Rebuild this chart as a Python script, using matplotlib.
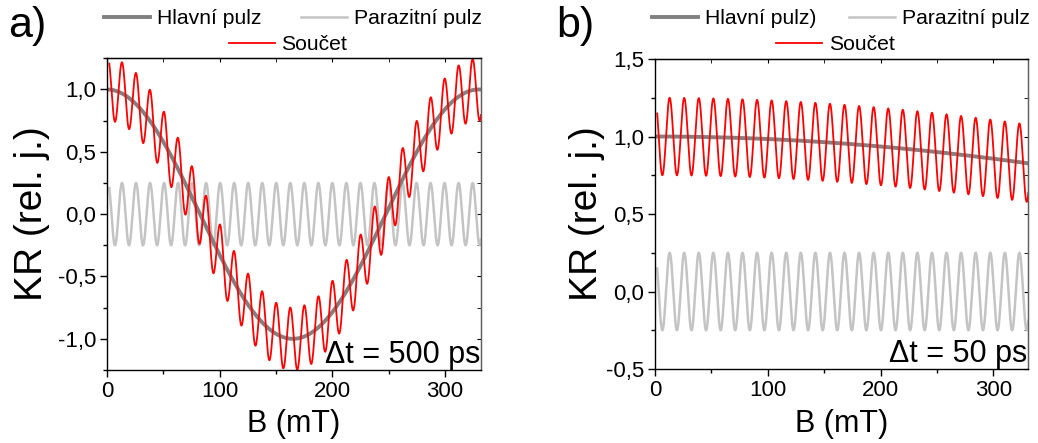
import numpy as np
import matplotlib.pyplot as plt
from matplotlib.ticker import MultipleLocator, FuncFormatter
from matplotlib.lines import Line2D

plt.rcParams['font.family'] = ['Liberation Sans', 'DejaVu Sans']

# values (B in mT)
panel_tags = ['a)', 'b)']
delay_texts = ['\u0394t = 500 ps', '\u0394t = 50 ps']
main_labels = ['Hlavní pulz', 'Hlavní pulz)']
par_label = 'Parazitní pulz'
sum_label = 'Součet'

b_start = [2.0, 2.0]
b_end = [332.0, 331.0]
main_period = [330.0, 3480.0]     # period of the main pulse precession
par_period = [12.45, 12.92]       # period of the parasitic pulse
par_first_peak = [13.3, 13.0]     # B of first parasitic maximum
par_amp = [0.25, 0.25]

y_limits = [(-1.25, 1.25), (-0.5, 1.5)]
x_ticks = [0, 100, 200, 300]

# axes boxes in figure fractions [left, bottom, width, height]
boxes = [[0.1031, 0.1648, 0.3603, 0.7036], [0.6310, 0.1670, 0.3597, 0.6998]]

c_main = '#808080'
c_par = '#c4c4c4'
c_sum = '#ff0000'


def comma1(v, pos):
    return f"{v:.1f}".replace('.', ',')


fig = plt.figure(figsize=(10.38, 4.43), dpi=100)

for i in range(2):
    ax = fig.add_axes(boxes[i])
    B = np.linspace(b_start[i], b_end[i], 4000)
    main = np.cos(2 * np.pi * B / main_period[i])
    par = par_amp[i] * np.cos(2 * np.pi * (B - par_first_peak[i]) / par_period[i])
    total = main + par

    ax.plot(B, par, color=c_par, lw=1.8)
    ax.plot(B, main, color=c_main, lw=2.8)
    ax.plot(B, total, color=c_sum, lw=1.3)

    ax.set_xlim(0, b_end[i])
    ax.set_ylim(*y_limits[i])
    ax.set_xticks(x_ticks)
    ax.xaxis.set_minor_locator(MultipleLocator(50))
    ax.yaxis.set_major_locator(MultipleLocator(0.5))
    ax.yaxis.set_minor_locator(MultipleLocator(0.25))
    ax.yaxis.set_major_formatter(FuncFormatter(comma1))
    ax.tick_params(which='both', direction='out', labelsize=16, width=1.0)
    ax.tick_params(which='major', length=5, pad=3)
    ax.tick_params(which='minor', length=3)
    for s in ax.spines.values():
        s.set_linewidth(1.0)
    ax.spines['right'].set_color('#606060')

    # mirrored ticks on top / right pointing inward (Origin style)
    top = ax.secondary_xaxis('top')
    top.set_xticks(x_ticks)
    top.xaxis.set_minor_locator(MultipleLocator(50))
    top.tick_params(which='both', direction='in', labeltop=False, length=3)
    right = ax.secondary_yaxis('right')
    right.yaxis.set_major_locator(MultipleLocator(0.5))
    right.yaxis.set_minor_locator(MultipleLocator(0.25))
    right.tick_params(which='both', direction='in', labelright=False, length=3)
    right.spines['right'].set_color('#606060')

    ax.text(0.997, 0.022, delay_texts[i], transform=ax.transAxes,
            ha='right', va='baseline', fontsize=22)

# axis labels and panel tags
xlab_x = [294 / 1038, 842 / 1038]
ylab_x = [32 / 1038, 587 / 1038]
tag_x = [8 / 1038, 556 / 1038]
for i in range(2):
    fig.text(xlab_x[i], 1 - 424 / 443, 'B (mT)', fontsize=22,
             ha='center', va='center')
    fig.text(ylab_x[i], 1 - 214 / 443, 'KR (rel. j.)', rotation=90,
             fontsize=28, ha='center', va='center')
    fig.text(tag_x[i], 1 - 37 / 443, panel_tags[i], fontsize=31, va='baseline')

# legends above each panel: two entries on row one, the sum centred below
h_main = Line2D([], [], color=c_main, lw=2.8)
h_par = Line2D([], [], color=c_par, lw=1.8)
h_sum = Line2D([], [], color=c_sum, lw=1.3)
leg_kw = dict(loc='center', frameon=False, fontsize=15.2, handlelength=2.18,
              handletextpad=0.33, borderpad=0, borderaxespad=0)
row1_x = [293 / 1038, 841 / 1038]
row2_x = [288 / 1038, 835.5 / 1038]
col_gap = [1.9, 1.52]
for i in range(2):
    fig.legend([h_main, h_par], [main_labels[i], par_label], ncol=2,
               columnspacing=col_gap[i],
               bbox_to_anchor=(row1_x[i], 1 - 19 / 443), **leg_kw)
    fig.legend([h_sum], [sum_label],
               bbox_to_anchor=(row2_x[i], 1 - 45 / 443), **leg_kw)

fig.savefig('out.png', dpi=100)
